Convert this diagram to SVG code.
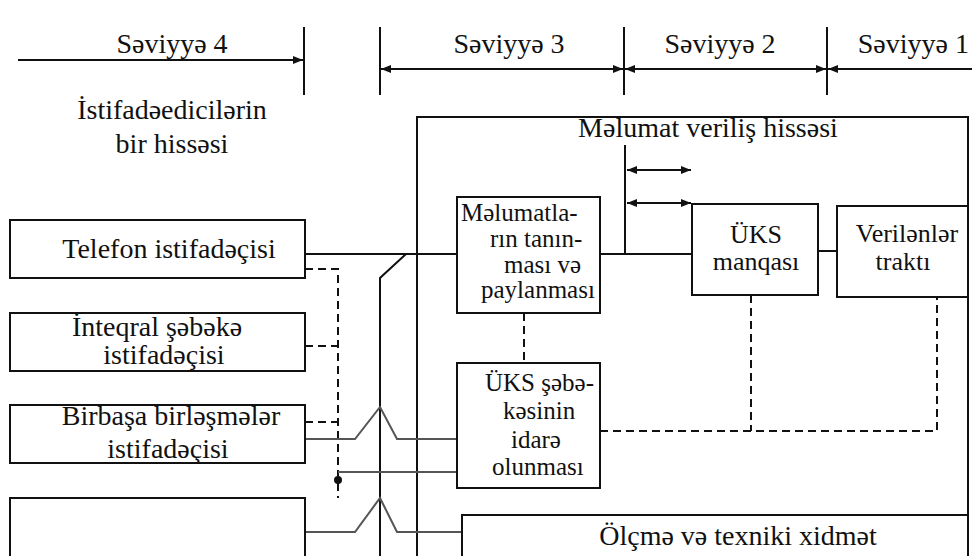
<svg xmlns="http://www.w3.org/2000/svg" width="972" height="556" viewBox="0 0 972 556">
<style>
text{font-family:"Liberation Serif","Times New Roman",serif;fill:#111;font-size:28px}
.m{text-anchor:middle}
.s{font-size:26px}
.t{font-size:25px}
.box{fill:#fff;stroke:#111;stroke-width:2}
.ln{fill:none;stroke:#111;stroke-width:2}
.gr{fill:none;stroke:#555;stroke-width:2}
.ds{fill:none;stroke:#111;stroke-width:2;stroke-dasharray:8 5}
</style>
<defs>
<marker id="ah" viewBox="0 0 10 8" refX="10" refY="4" markerWidth="10" markerHeight="8" markerUnits="userSpaceOnUse" orient="auto-start-reverse">
<path d="M0,0 L10,4 L0,8 Z" fill="#111"/>
</marker>
</defs>
<g id="levels">
<line class="ln" x1="304" y1="27" x2="304" y2="95"/>
<line class="ln" x1="380" y1="27" x2="380" y2="95"/>
<line class="ln" x1="624" y1="27" x2="624" y2="95"/>
<line class="ln" x1="827" y1="27" x2="827" y2="95"/>
<line class="ln" x1="18" y1="60" x2="303" y2="60" marker-end="url(#ah)"/>
<line class="ln" x1="381" y1="69" x2="623" y2="69" marker-start="url(#ah)" marker-end="url(#ah)"/>
<line class="ln" x1="625" y1="69" x2="826" y2="69" marker-start="url(#ah)" marker-end="url(#ah)"/>
<line class="ln" x1="828" y1="69" x2="972" y2="69" marker-start="url(#ah)"/>
<text class="m" x="172" y="53" font-size="26">Səviyyə 4</text>
<text class="m" x="509" y="53" font-size="26">Səviyyə 3</text>
<text class="m" x="720" y="53" font-size="26">Səviyyə 2</text>
<text x="969" y="53" font-size="25" text-anchor="end">Səviyyə 1</text>
<text class="m" x="172" y="119">İstifadəedicilərin</text>
<text class="m" x="172" y="153">bir hissəsi</text>
</g>
<g id="outer">
<path class="ln" d="M417,556 V117 H968 V556"/>
<text class="m" x="708" y="137">Məlumat veriliş hissəsi</text>
</g>
<g id="connectors">
<line class="ln" x1="305" y1="254" x2="457" y2="254"/>
<line class="ln" x1="600" y1="254" x2="692" y2="254"/>
<line class="ln" x1="625" y1="145" x2="625" y2="254"/>
<line class="ln" x1="627" y1="170" x2="691" y2="170" marker-start="url(#ah)" marker-end="url(#ah)"/>
<line class="ln" x1="627" y1="203" x2="691" y2="203" marker-start="url(#ah)" marker-end="url(#ah)"/>
<line class="ln" x1="818" y1="251" x2="837" y2="251"/>
<path class="ln" d="M380,556 V278 L406,254"/>
<path class="ds" d="M305,269 H338 V498"/>
<line class="ds" x1="305" y1="346" x2="338" y2="346"/>
<line class="ds" x1="305" y1="422" x2="338" y2="422"/>
<circle cx="338" cy="480" r="4" fill="#111"/>
<line class="gr" x1="338" y1="472" x2="457" y2="472"/>
<path class="gr" d="M305,439 H355 L380,407 L397,439 H457"/>
<path class="gr" d="M305,532 H355 L380,498 L397,532 H464"/>
<line class="ds" x1="524" y1="313" x2="524" y2="363"/>
<path class="ds" d="M600,431 H937 V297"/>
<line class="ds" x1="751" y1="295" x2="751" y2="431"/>
</g>
<g id="n-telefon">
<rect class="box" x="10" y="220" width="295" height="58"/>
<text class="m" x="169" y="258">Telefon istifadəçisi</text>
</g>
<g id="n-inteqral">
<rect class="box" x="10" y="313" width="295" height="58"/>
<text class="m" x="157" y="336" font-size="27">İnteqral şəbəkə</text>
<text class="m" x="164" y="364" font-size="27">istifadəçisi</text>
</g>
<g id="n-birbasa">
<rect class="box" x="10" y="405" width="295" height="58"/>
<text class="m" x="171" y="425" font-size="27">Birbaşa birləşmələr</text>
<text class="m" x="168" y="458" font-size="27">istifadəçisi</text>
</g>
<g id="n-empty">
<rect class="box" x="10" y="498" width="295" height="70"/>
</g>
<g id="n-melumatlar">
<rect class="box" x="457" y="197" width="143" height="116"/>
<text class="t" x="461" y="221">Məlumatla-</text>
<text class="t" x="490" y="247">rın tanın-</text>
<text class="t" x="504" y="273">ması və</text>
<text class="t" x="481" y="298">paylanması</text>
</g>
<g id="n-uks-manqa">
<rect class="box" x="692" y="204" width="126" height="91"/>
<text class="m s" x="756" y="243">ÜKS</text>
<text class="m s" x="756" y="270">manqası</text>
</g>
<g id="n-verilenler">
<rect class="box" x="837" y="206" width="131" height="91"/>
<text class="m s" x="907" y="242">Verilənlər</text>
<text class="m s" x="903" y="270">traktı</text>
</g>
<g id="n-uks-idare">
<rect class="box" x="457" y="363" width="143" height="125"/>
<text class="t" x="485" y="391">ÜKS şəbə-</text>
<text class="t" x="503" y="419">kəsinin</text>
<text class="t" x="511" y="448">idarə</text>
<text class="t" x="492" y="475">olunması</text>
</g>
<g id="n-olcme">
<rect class="box" x="462" y="515" width="506" height="60"/>
<text class="m" x="738" y="545">Ölçmə və texniki xidmət</text>
</g>
</svg>
